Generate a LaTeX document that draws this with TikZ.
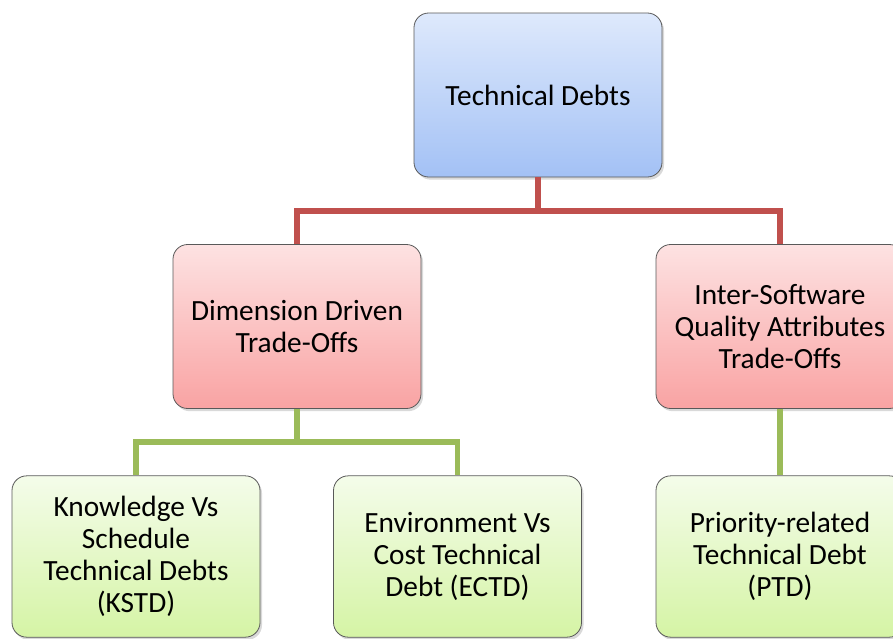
\documentclass[tikz,border=0pt]{standalone}
\usepackage{fontspec}
\setmainfont{Carlito}
\usetikzlibrary{shadows}
\definecolor{lineRed}{HTML}{C0504D}
\definecolor{lineGreen}{HTML}{9BBB59}
\definecolor{blueTop}{HTML}{DEE9FC}
\definecolor{blueBot}{HTML}{A3C1F5}
\definecolor{redTop}{HTML}{FDE2E2}
\definecolor{redBot}{HTML}{F9A3A3}
\definecolor{greenTop}{HTML}{F4FCEA}
\definecolor{greenBot}{HTML}{D5F4A5}
\begin{document}
\begin{tikzpicture}[x=0.75pt,y=-0.75pt,
  box/.style={draw=black!65, line width=0.6pt, rounded corners=11pt,
    minimum width=186pt, minimum height=123pt, align=center,
    font=\fontsize{22}{24}\selectfont, inner sep=0pt,
    drop shadow={opacity=0.3, shadow xshift=1.5pt, shadow yshift=-2pt}},
  bluebox/.style={box, top color=blueTop, bottom color=blueBot},
  redbox/.style={box, top color=redTop, bottom color=redBot},
  greenbox/.style={box, top color=greenTop, bottom color=greenBot,
    minimum height=121pt},
  redline/.style={draw=lineRed, line width=3.8pt},
  greenline/.style={draw=lineGreen, line width=3.8pt}]
\useasboundingbox (0,0) rectangle (893,639);
\clip (0,0) rectangle (893,639);

% junction points of the two connector buses
\coordinate (rbus) at (538,211);
\coordinate (gbus) at (297,442);

\node[bluebox] (top) at (538,95) {Technical Debts};
\node[redbox] (midL) at (297,326.5) {Dimension Driven\\Trade-Offs};
\node[redbox] (midR) at (780,326.5) {Inter-Software\\Quality Attributes\\Trade-Offs};
\node[greenbox] (botL) at (136,556.5) {Knowledge Vs\\Schedule\\Technical Debts\\(KSTD)};
\node[greenbox] (botM) at (457.5,556.5) {Environment Vs\\Cost Technical\\Debt (ECTD)};
\node[greenbox] (botR) at (780,556.5) {Priority-related\\Technical Debt\\(PTD)};

\draw[redline] (top.south) -- (rbus);
\draw[redline] (rbus) -| (midL.north);
\draw[redline] (rbus) -| (midR.north);
\draw[greenline] (midL.south) -- (gbus);
\draw[greenline] (gbus) -| (botL.north);
\draw[greenline] (gbus) -| (botM.north);
\draw[greenline] (midR.south) -- (botR.north);
\end{tikzpicture}
\end{document}
